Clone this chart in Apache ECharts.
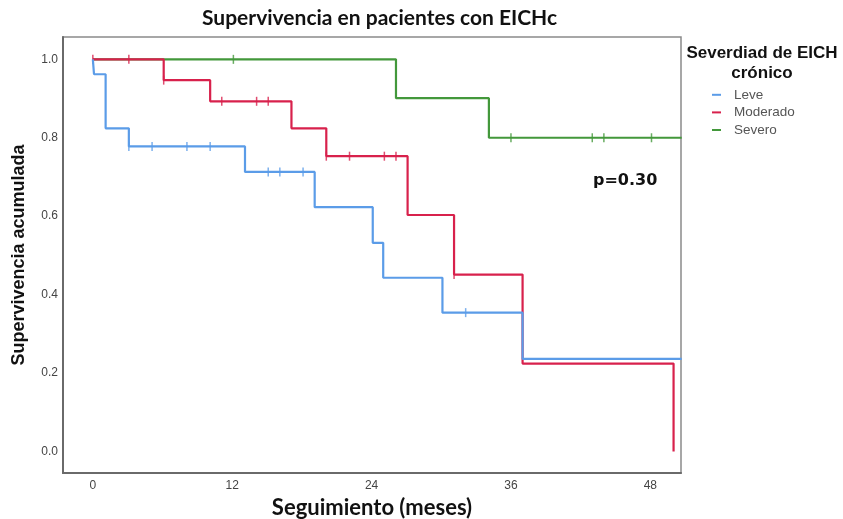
<!DOCTYPE html>
<html>
<head>
<meta charset="utf-8">
<script src="https://cdn.jsdelivr.net/npm/echarts@6/dist/echarts.min.js"></script>
<style>html,body{margin:0;padding:0;background:#fff}#c{width:843px;height:519px}</style>
</head>
<body>
<div id="c"></div>
<script>
// ---- data (months, cumulative survival) ----
var xTicks = [0, 12, 24, 36, 48];
var yTicks = [0, 0.2, 0.4, 0.6, 0.8, 1.0];
var seriesNames = ['Leve', 'Moderado', 'Severo'];

var leveSteps = [[0,1.0],[0.1,0.962],[1.1,0.824],[3.1,0.778],[13.1,0.713],[19.1,0.623],[24.1,0.532],[25.0,0.443],[30.1,0.354],[37.0,0.236],[50.7,0.236]];
var leveCensor = [[3.1,0.778],[5.1,0.778],[8.1,0.778],[10.1,0.778],[15.1,0.713],[16.1,0.713],[18.1,0.713],[32.1,0.354]];

var moderadoSteps = [[0,1.0],[6.1,0.947],[10.1,0.893],[17.1,0.824],[20.1,0.753],[27.1,0.603],[31.1,0.451],[37.0,0.224],[50.0,0.0]];
var moderadoCensor = [[0,1.0],[3.1,1.0],[6.1,0.947],[11.1,0.893],[14.1,0.893],[15.1,0.893],[20.1,0.753],[22.1,0.753],[25.1,0.753],[26.1,0.753],[31.1,0.451]];

var severoSteps = [[0,1.0],[26.1,0.901],[34.1,0.80],[50.7,0.80]];
var severoCensor = [[12.1,1.0],[36.0,0.80],[43.0,0.80],[44.0,0.80],[48.1,0.80]];

var pText = 'p=0.30';

var colors = ['#5b9ce8', '#d8214c', '#43983b'];
var stepsAll = [leveSteps, moderadoSteps, severoSteps];
var censorAll = [leveCensor, moderadoCensor, severoCensor];

var series = [];
for (var i = 0; i < 3; i++) {
  series.push({
    name: seriesNames[i], type: 'line', step: 'end', data: stepsAll[i],
    showSymbol: false, symbol: 'none', animation: false, z: 3 - i + 2,
    lineStyle: { color: colors[i], width: 2.2 }, itemStyle: { color: colors[i] }
  });
}
for (var j = 0; j < 3; j++) {
  series.push({
    name: seriesNames[j], type: 'scatter', data: censorAll[j], symbol: 'rect',
    symbolSize: [1.5, 9], animation: false, z: 3 - j + 2, silent: true,
    itemStyle: { color: colors[j] }
  });
}

var chart = echarts.init(document.getElementById('c'));
chart.setOption({
  animation: false,
  backgroundColor: '#fff',
  title: {
    text: 'Supervivencia en pacientes con EICHc', left: 197, top: 3,
    textStyle: { fontFamily: 'Lato', fontWeight: 'bold', fontSize: 21, color: '#111' }
  },
  grid: { left: 63, top: 37, right: 162, bottom: 46, show: true, borderColor: '#8a8a8a', borderWidth: 1.5,
    containLabel: false, outerBoundsMode: 'none' },
  xAxis: {
    type: 'value', min: -2.57, max: 50.64,
    name: 'Seguimiento (meses)', nameLocation: 'middle', nameGap: 24,
    nameTextStyle: { fontFamily: 'Lato', fontWeight: 'bold', fontSize: 22, color: '#111' },
    axisLine: { show: true, onZero: false, lineStyle: { color: '#6a6a6a', width: 2 } },
    axisTick: { show: false },
    splitLine: { show: false },
    axisLabel: { customValues: xTicks, color: '#444', fontSize: 12, fontFamily: 'Liberation Sans', margin: 7 }
  },
  yAxis: {
    type: 'value', min: -0.055, max: 1.057,
    name: 'Supervivencia acumulada', nameLocation: 'middle', nameGap: 35,
    nameTextStyle: { fontFamily: 'Liberation Sans', fontWeight: 'bold', fontSize: 18, color: '#111' },
    axisLine: { show: true, onZero: false, lineStyle: { color: '#6a6a6a', width: 2 } },
    axisTick: { show: false },
    splitLine: { show: false },
    axisLabel: { customValues: yTicks, color: '#444', fontSize: 12, fontFamily: 'Liberation Sans', margin: 5,
      formatter: function (v) { return v.toFixed(1); } }
  },
  legend: {
    data: seriesNames, orient: 'vertical', left: 707, top: 82, itemGap: 2,
    icon: 'rect', itemWidth: 9, itemHeight: 2,
    textStyle: { color: '#555', fontSize: 13.5, fontFamily: 'Liberation Sans', padding: [0, 0, 0, 8], height: 15.6, lineHeight: 15.6 },
    selectedMode: false
  },
  graphic: [
    { type: 'text', x: 762, y: 43, style: { text: 'Severdiad de EICH\ncrónico', align: 'center', verticalAlign: 'top', fontFamily: 'Liberation Sans', fontWeight: 'bold', fontSize: 17, fill: '#111', lineHeight: 20 } },
    { type: 'text', x: 593, y: 173, style: { text: pText, fontFamily: 'DejaVu Sans', fontWeight: 'bold', fontSize: 16, fill: '#111' } }
  ],
  series: series
});
</script>
</body>
</html>
